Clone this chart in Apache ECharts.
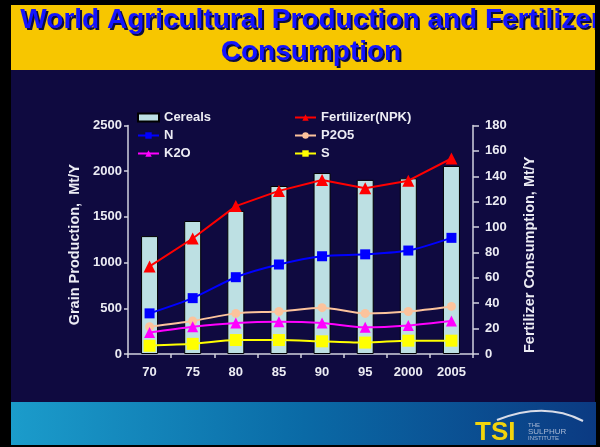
<!DOCTYPE html>
<html>
<head>
<meta charset="utf-8">
<script src="https://cdn.jsdelivr.net/npm/echarts@6/dist/echarts.min.js"></script>
<style>
  html, body { margin: 0; padding: 0; background: #000; }
  #chart { width: 600px; height: 447px; }
</style>
</head>
<body>
<div id="chart"></div>
<script>
// ---- Data ----
var categories = ['70', '75', '80', '85', '90', '95', '2000', '2005'];
var cereals    = [1290, 1455, 1565, 1838, 1980, 1905, 1922, 2057];   // Mt/Y, left axis
var fertilizer = [69, 91, 116.5, 128.5, 137, 130.5, 136.5, 154];     // Mt/Y, right axis
var nitrogen   = [32, 44, 60.5, 70.5, 77, 78.5, 81.5, 91.5];
var phosphate  = [21.5, 26, 32, 33.5, 36.5, 32, 33.5, 37.5];
var potash     = [17, 21.5, 24.5, 25.5, 24.5, 21, 22.5, 26];
var sulphur    = [6.5, 8, 11, 11, 10, 9, 10.5, 10.5];
var leftTicks  = { min: 0, max: 2500, interval: 500 };
var rightTicks = { min: 0, max: 180, interval: 20 };
var titleLines = ['World Agricultural Production and Fertilizer', 'Consumption'];

var FONT = '"Liberation Sans", Arial, Helvetica, sans-serif';
var LABEL = '#ececf4';
var AXIS = '#d2d2de';

var chart = echarts.init(document.getElementById('chart'), null, { renderer: 'canvas' });

function lineSeries(name, data, color, symbol, size, smooth) {
  return {
    name: name, type: 'line', yAxisIndex: 1, data: data,
    symbol: symbol, symbolSize: size, smooth: smooth,
    lineStyle: { color: color, width: 2 },
    itemStyle: { color: color },
    z: 3
  };
}

function titleText(text, y) {
  return [
    { type: 'text', z: 40, style: { text: text, x: 313, y: y + 2, align: 'center', verticalAlign: 'middle',
      font: 'bold 28px ' + FONT, fill: '#0c0c40' } },
    { type: 'text', z: 41, style: { text: text, x: 311, y: y, align: 'center', verticalAlign: 'middle',
      font: 'bold 28px ' + FONT, fill: '#1414ff' } }
  ];
}

var graphics = [
  { type: 'rect', z: -20, shape: { x: 11, y: 5, width: 584, height: 65 }, style: { fill: '#f7c600' } },
  { type: 'rect', z: -20, shape: { x: 11, y: 70, width: 584, height: 332 }, style: { fill: '#0f0a40' } },
  { type: 'rect', z: -20, shape: { x: 11, y: 402, width: 585, height: 43 },
    style: { fill: new echarts.graphic.LinearGradient(0, 0, 1, 0, [
      { offset: 0, color: '#1b9ccb' }, { offset: 0.5, color: '#0a6aa6' }, { offset: 1, color: '#0b3a82' }
    ]) } },
  { type: 'bezierCurve', z: 50, shape: { x1: 497, y1: 420, x2: 583, y2: 421, cpx1: 545, cpy1: 401 },
    style: { stroke: '#d8dce8', lineWidth: 2, fill: null } },
  { type: 'text', z: 50, style: { text: 'TSI', x: 475, y: 433, verticalAlign: 'middle',
    font: 'bold 26px ' + FONT, fill: '#f2d40c' } },
  { type: 'text', z: 50, style: { text: 'THE', x: 528, y: 425, verticalAlign: 'middle',
    font: '6px ' + FONT, fill: '#a8b8d4' } },
  { type: 'text', z: 50, style: { text: 'SULPHUR', x: 528, y: 431.5, verticalAlign: 'middle',
    font: '8px ' + FONT, fill: '#a8b8d4' } },
  { type: 'text', z: 50, style: { text: 'INSTITUTE', x: 528, y: 438, verticalAlign: 'middle',
    font: '6px ' + FONT, fill: '#a8b8d4' } }
].concat(titleText(titleLines[0], 20.5), titleText(titleLines[1], 52.5), [
  { type: 'rect', z: 100, shape: { x: 595, y: 0, width: 5, height: 402 }, style: { fill: '#000' } }
]);

var legendText = { color: LABEL, fontFamily: FONT, fontSize: 13, fontWeight: 'bold' };

var option = {
  backgroundColor: '#000000',
  animation: false,
  graphic: graphics,
  legend: [
    {
      orient: 'vertical', left: 137, top: 111, padding: 0,
      itemWidth: 21, itemHeight: 8, itemGap: 5,
      textStyle: legendText,
      data: [{ name: 'Cereals', icon: 'rect' }, 'N', 'K2O']
    },
    {
      orient: 'vertical', left: 294, top: 111, padding: 0,
      itemWidth: 21, itemHeight: 8, itemGap: 5,
      textStyle: legendText,
      data: ['Fertilizer(NPK)', 'P2O5', 'S']
    }
  ],
  grid: { left: 128, right: 127, top: 125.5, bottom: 93, containLabel: false },
  xAxis: {
    type: 'category', data: categories, boundaryGap: true,
    axisLine: { lineStyle: { color: AXIS, width: 1.5 } },
    axisTick: { show: true, length: 4, lineStyle: { color: AXIS, width: 1.5 } },
    axisLabel: { color: LABEL, fontFamily: FONT, fontSize: 13, fontWeight: 'bold', margin: 12 },
    splitLine: { show: false }
  },
  yAxis: [
    {
      type: 'value', position: 'left',
      min: leftTicks.min, max: leftTicks.max, interval: leftTicks.interval,
      name: 'Grain Production,  Mt/Y', nameLocation: 'middle', nameGap: 42,
      nameTextStyle: { color: LABEL, fontFamily: FONT, fontSize: 14.5, fontWeight: 'bold', padding: [0, 10, 0, 0] },
      axisLine: { show: true, lineStyle: { color: AXIS, width: 1.5 } },
      axisTick: { show: true, length: 4, lineStyle: { color: AXIS, width: 1.5 } },
      axisLabel: { color: LABEL, fontFamily: FONT, fontSize: 13, fontWeight: 'bold', margin: 6,
        formatter: function (v) { return String(v); } },
      splitLine: { show: false }
    },
    {
      type: 'value', position: 'right',
      min: rightTicks.min, max: rightTicks.max, interval: rightTicks.interval,
      name: 'Fertilizer Consumption, Mt/Y', nameLocation: 'middle', nameGap: 49,
      nameTextStyle: { color: LABEL, fontFamily: FONT, fontSize: 14.5, fontWeight: 'bold', padding: [0, 30, 0, 0] },
      axisLine: { show: true, lineStyle: { color: AXIS, width: 1.5 } },
      axisTick: { show: true, length: 6, lineStyle: { color: AXIS, width: 1.5 } },
      axisLabel: { color: LABEL, fontFamily: FONT, fontSize: 13, fontWeight: 'bold', margin: 12,
        formatter: function (v) { return String(v); } },
      splitLine: { show: false }
    }
  ],
  series: [
    {
      name: 'Cereals', type: 'bar', yAxisIndex: 0, data: cereals, barWidth: 17,
      itemStyle: { color: '#bde0e3', borderColor: '#000000', borderWidth: 1 },
      z: 2
    },
    lineSeries('Fertilizer(NPK)', fertilizer, '#ff0000', 'triangle', 12, false),
    lineSeries('N', nitrogen, '#0000ff', 'rect', 10, 0.25),
    lineSeries('P2O5', phosphate, '#fcc39c', 'circle', 9, 0.25),
    lineSeries('K2O', potash, '#ff00ff', 'triangle', 11, 0.3),
    lineSeries('S', sulphur, '#ffff00', 'rect', 12, 0.25)
  ]
};

chart.setOption(option);
</script>
</body>
</html>
